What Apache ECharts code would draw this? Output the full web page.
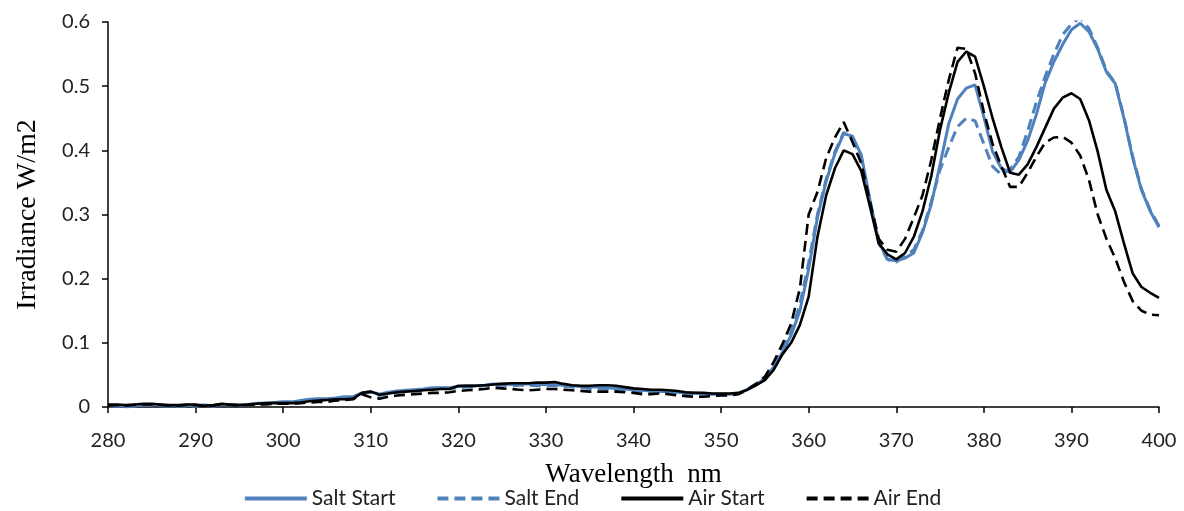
<!DOCTYPE html>
<html>
<head>
<meta charset="utf-8">
<script src="https://cdn.jsdelivr.net/npm/echarts@6/dist/echarts.min.js"></script>
<style>html,body{margin:0;padding:0;background:#fff}#c{width:1184px;height:511px}</style>
</head>
<body>
<div id="c"></div>
<script>
const wavelengths = [];
for (let w = 280; w <= 400; w++) wavelengths.push(w);

const saltStart = [
0.003,0.002,0.001,0.002,0.003,0.004,0.003,0.002,0.002,0.003,
0.002,0.003,0.002,0.004,0.004,0.003,0.004,0.006,0.006,0.007,
0.008,0.008,0.010,0.012,0.013,0.013,0.014,0.016,0.016,0.022,
0.024,0.020,0.023,0.025,0.026,0.027,0.028,0.030,0.030,0.030,
0.032,0.033,0.033,0.034,0.036,0.036,0.035,0.036,0.036,0.035,
0.035,0.035,0.034,0.033,0.032,0.031,0.031,0.030,0.029,0.028,
0.027,0.026,0.025,0.024,0.024,0.023,0.022,0.022,0.021,0.020,
0.020,0.020,0.021,0.027,0.034,0.045,0.062,0.085,0.112,0.150,
0.215,0.295,0.352,0.395,0.426,0.422,0.393,0.323,0.258,0.230,
0.228,0.232,0.240,0.272,0.316,0.378,0.442,0.480,0.497,0.502,
0.452,0.398,0.372,0.366,0.385,0.415,0.456,0.505,0.538,0.565,
0.588,0.598,0.585,0.558,0.522,0.504,0.450,0.388,0.338,0.305,
0.280];

const saltEnd = [
0.002,0.001,0.000,0.001,0.003,0.003,0.002,0.001,0.001,0.002,
0.001,0.003,0.001,0.003,0.003,0.002,0.003,0.005,0.005,0.006,
0.007,0.008,0.009,0.011,0.012,0.012,0.013,0.015,0.015,0.021,
0.023,0.018,0.021,0.023,0.024,0.025,0.026,0.028,0.029,0.029,
0.030,0.031,0.032,0.033,0.034,0.034,0.033,0.034,0.034,0.033,
0.033,0.033,0.032,0.031,0.030,0.029,0.029,0.028,0.027,0.026,
0.025,0.024,0.023,0.023,0.022,0.021,0.021,0.020,0.020,0.019,
0.019,0.019,0.021,0.028,0.036,0.047,0.065,0.090,0.118,0.160,
0.225,0.300,0.355,0.398,0.428,0.418,0.390,0.320,0.255,0.230,
0.226,0.235,0.245,0.275,0.320,0.370,0.405,0.437,0.450,0.446,
0.410,0.375,0.362,0.370,0.390,0.430,0.475,0.515,0.550,0.580,
0.597,0.607,0.590,0.560,0.524,0.505,0.452,0.390,0.340,0.307,
0.282];

const airStart = [
0.004,0.004,0.003,0.004,0.005,0.005,0.004,0.003,0.003,0.004,
0.004,0.002,0.003,0.005,0.004,0.003,0.004,0.005,0.006,0.006,
0.006,0.006,0.007,0.009,0.010,0.011,0.012,0.012,0.013,0.022,
0.024,0.019,0.021,0.023,0.024,0.025,0.026,0.027,0.028,0.028,
0.033,0.033,0.033,0.034,0.035,0.036,0.037,0.037,0.037,0.038,
0.038,0.039,0.036,0.034,0.033,0.033,0.034,0.034,0.033,0.031,
0.029,0.028,0.027,0.027,0.026,0.025,0.023,0.022,0.022,0.021,
0.021,0.021,0.022,0.027,0.034,0.042,0.058,0.082,0.100,0.128,
0.172,0.265,0.330,0.372,0.400,0.394,0.368,0.312,0.255,0.238,
0.230,0.240,0.265,0.305,0.360,0.432,0.490,0.538,0.554,0.546,
0.500,0.450,0.405,0.365,0.362,0.378,0.405,0.435,0.465,0.482,
0.489,0.480,0.447,0.398,0.338,0.305,0.255,0.208,0.187,0.178,
0.170];

const airEnd = [
0.002,0.003,0.002,0.003,0.004,0.004,0.003,0.002,0.002,0.003,
0.003,0.001,0.002,0.004,0.003,0.002,0.003,0.004,0.004,0.005,
0.005,0.005,0.006,0.007,0.008,0.008,0.010,0.011,0.012,0.020,
0.015,0.013,0.016,0.018,0.019,0.020,0.021,0.022,0.022,0.023,
0.025,0.026,0.027,0.028,0.030,0.029,0.028,0.027,0.026,0.027,
0.028,0.028,0.027,0.026,0.025,0.024,0.024,0.024,0.024,0.023,
0.022,0.020,0.020,0.021,0.020,0.018,0.017,0.016,0.016,0.017,
0.018,0.018,0.020,0.027,0.036,0.047,0.070,0.098,0.130,0.185,
0.300,0.335,0.388,0.420,0.444,0.413,0.380,0.320,0.262,0.245,
0.242,0.262,0.295,0.330,0.385,0.450,0.510,0.560,0.558,0.520,
0.460,0.410,0.375,0.343,0.343,0.365,0.390,0.412,0.420,0.421,
0.412,0.392,0.354,0.300,0.262,0.232,0.195,0.165,0.150,0.144,
0.143];

const seriesNames = ['Salt Start', 'Salt End', 'Air Start', 'Air End'];
const blue = '#4f81bd';

function pairs(arr) { return wavelengths.map((w, i) => [w, arr[i]]); }

const chart = echarts.init(document.getElementById('c'), null, {renderer: 'canvas'});
const mk = (name, arr, color, type, width) => ({
  name, type: 'line', data: pairs(arr), symbol: 'none', smooth: false,
  lineStyle: {color, width, type},
  itemStyle: {color},
  emphasis: {disabled: true}
});
const dash = [11, 6];
chart.setOption({
  animation: false,
  grid: {left: 108, right: 25, top: 22, bottom: 104, containLabel: false},
  legend: {
    top: 483, left: 'center',
    itemWidth: 62, itemHeight: 4, itemGap: 40,
    itemStyle: {opacity: 0},
    lineStyle: {width: 4},
    textStyle: {fontFamily: 'Lato', fontSize: 21, color: '#222'},
    data: seriesNames
  },
  xAxis: {
    type: 'value', min: 280, max: 400, interval: 10,
    name: 'Wavelength  nm', nameLocation: 'middle', nameGap: 54,
    nameTextStyle: {fontFamily: 'Liberation Serif', fontSize: 27, color: '#000'},
    axisLine: {show: true, lineStyle: {color: '#000', width: 1.5}},
    axisTick: {show: true, inside: false, length: 6, lineStyle: {color: '#000', width: 1.5}},
    axisLabel: {fontFamily: 'Lato', fontSize: 20, color: '#222', margin: 24},
    splitLine: {show: false}
  },
  yAxis: {
    type: 'value', min: 0, max: 0.6, interval: 0.1,
    name: 'Irradiance W/m2', nameLocation: 'middle', nameGap: 66,
    nameTextStyle: {fontFamily: 'Liberation Serif', fontSize: 28, color: '#000'},
    axisLine: {show: true, lineStyle: {color: '#000', width: 1.5}},
    axisTick: {show: true, inside: false, length: 6, lineStyle: {color: '#000', width: 1.5}},
    axisLabel: {fontFamily: 'Lato', fontSize: 20, color: '#222', margin: 18},
    splitLine: {show: false}
  },
  series: [
    mk('Salt Start', saltStart, blue, 'solid', 3),
    mk('Salt End', saltEnd, blue, dash, 3),
    mk('Air Start', airStart, '#000', 'solid', 2.6),
    mk('Air End', airEnd, '#000', dash, 2.6)
  ]
});
</script>
</body>
</html>
